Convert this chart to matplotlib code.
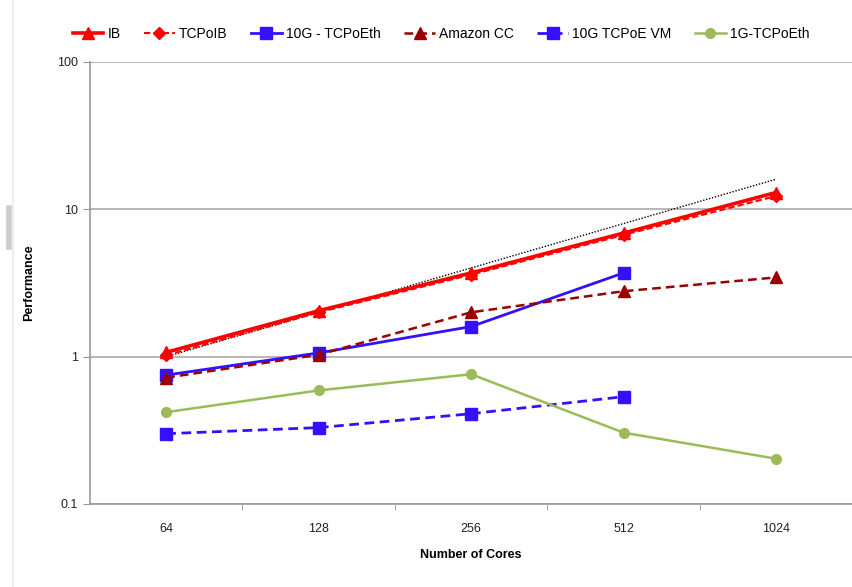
import matplotlib
matplotlib.use("Agg")
import matplotlib.pyplot as plt
from matplotlib.lines import Line2D
from matplotlib.ticker import FixedLocator, NullFormatter

plt.rcParams['font.family'] = ['Liberation Sans', 'DejaVu Sans']

# data
cores = ["64", "128", "256", "512", "1024"]
ib = [1.07, 2.05, 3.7, 6.9, 13.0]
tcpoib = [1.02, 2.0, 3.6, 6.7, 12.3]
tcpoeth_10g = [0.75, 1.06, 1.6, 3.7]
amazon_cc = [0.72, 1.03, 2.0, 2.78, 3.45]
tcpoe_vm_10g = [0.30, 0.33, 0.41, 0.535]
tcpoeth_1g = [0.42, 0.59, 0.76, 0.305, 0.203]
ideal = [1, 2, 4, 8, 16]

x = list(range(len(cores)))

fig = plt.figure(figsize=(8.53, 5.87), dpi=100)
ax = fig.add_axes([0.1055, 0.1414, 0.8935, 0.753])

ax.plot(x, ideal, color="black", ls=(0, (1, 1.2)), lw=1.0, zorder=2)
ax.plot(x, ib, color="#FF0000", lw=2.6, marker="^", ms=8, label="IB", zorder=4)
ax.plot(x, tcpoib, color="#FF0000", lw=1.5, ls=(0, (3, 1.5)), marker="D", ms=6,
        label="TCPoIB", zorder=5)
ax.plot(x[:4], tcpoeth_10g, color="#3311FF", lw=2.0, marker="s", ms=8,
        label="10G - TCPoEth", zorder=3)
ax.plot(x, amazon_cc, color="#990000", lw=1.8, ls=(0, (3.5, 2)), marker="^", ms=8,
        label="Amazon CC", zorder=3)
ax.plot(x[:4], tcpoe_vm_10g, color="#3311FF", lw=2.0, ls=(0, (3.5, 2)), marker="s", ms=9,
        label="10G TCPoE VM", zorder=3)
ax.plot(x, tcpoeth_1g, color="#9BBB59", lw=1.8, marker="o", ms=7,
        label="1G-TCPoEth", zorder=3)

ax.set_yscale("log")
ax.set_ylim(0.1, 100)
ax.set_xlim(-0.5, 4.5)
ax.set_yticks([0.1, 1, 10, 100])
ax.set_yticklabels(["0.1", "1", "10", "100"])
ax.yaxis.set_minor_locator(FixedLocator([]))
ax.set_xticks(x)
ax.set_xticklabels(cores)
ax.xaxis.set_minor_locator(FixedLocator([0.5, 1.5, 2.5, 3.5]))
ax.xaxis.set_minor_formatter(NullFormatter())

ax.tick_params(axis="x", which="major", length=0, pad=14, labelsize=9, colors="#222222")
ax.tick_params(axis="x", which="minor", length=4, color="#999999")
ax.tick_params(axis="y", which="major", length=5, color="#999999", labelsize=9,
               labelcolor="#222222")

ax.grid(axis="y", which="major", color="#AAAAAA", lw=1.2)
ax.set_axisbelow(True)
for side in ("top", "right"):
    ax.spines[side].set_visible(False)
for side in ("left", "bottom"):
    ax.spines[side].set_color("#999999")
    ax.spines[side].set_linewidth(1.2)

ax.set_xlabel("Number of Cores", fontsize=9, fontweight="bold", labelpad=10)
ax.set_ylabel("Performance", fontsize=9, fontweight="bold", labelpad=16)

fig.legend(loc="upper center", bbox_to_anchor=(0.517, 0.975), ncol=6, frameon=False,
           fontsize=10, handlelength=2.2, handletextpad=0.3, columnspacing=1.7)

# faint frame edge at the left of the original screenshot
fig.add_artist(Line2D([0.015, 0.015], [0.0, 1.0], color="#EEEEEE", lw=1.5))
fig.add_artist(Line2D([0.01, 0.01], [0.58, 0.645], color="#CCCCCC", lw=4))

fig.savefig("out.png", dpi=100)
